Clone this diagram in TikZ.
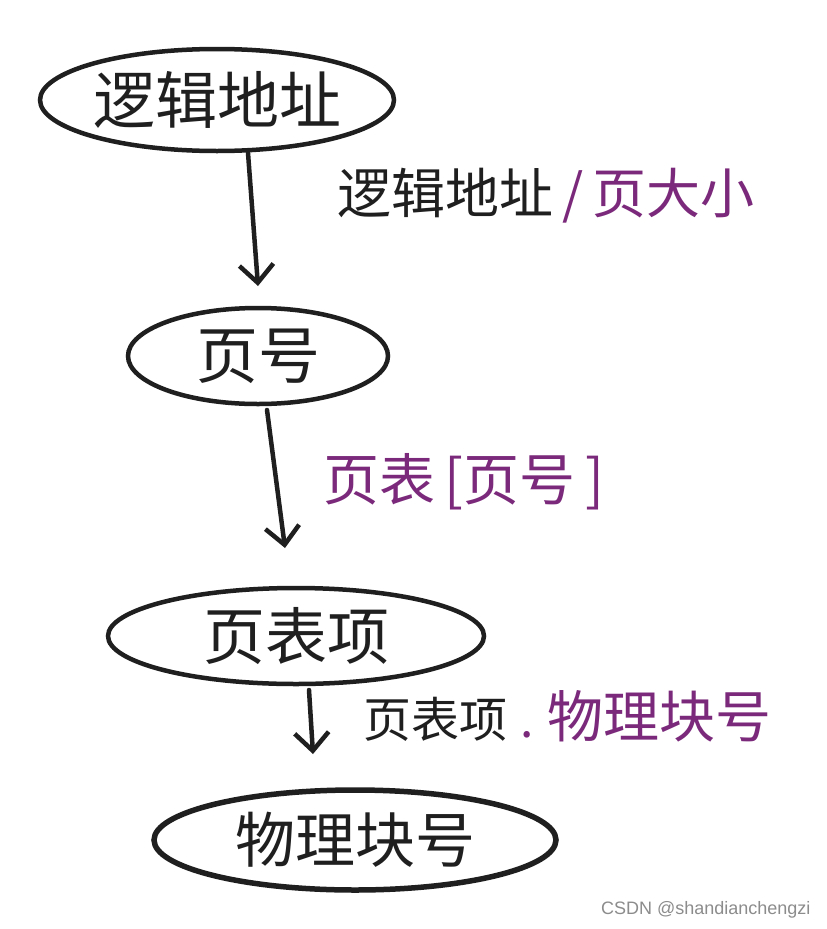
\documentclass[tikz,border=0pt]{standalone}
\usepackage{fontspec}
\newfontfamily\cjk{Noto Sans CJK SC}
\setmainfont{Liberation Sans}
\usetikzlibrary{arrows.meta,shapes.geometric}
\definecolor{pur}{HTML}{7B2A7B}
\begin{document}
\begin{tikzpicture}[x=1pt,y=-1pt,
  oval/.style={draw=black!88, line width=4.5pt, ellipse, inner sep=0pt, font=\cjk\fontsize{62}{68}\selectfont, text=black!88},
  lab/.style={font=\cjk\fontsize{54}{60}\selectfont, text=black!88, anchor=west},
  arr/.style={draw=black!88, line width=4.5pt, line cap=round, -{Straight Barb[length=18pt,width=34pt,line width=4.5pt]}}]
\useasboundingbox (0,0) rectangle (827,929);
\fill[white] (0,0) rectangle (827,929);
% ellipses
\node[oval, minimum width=354pt, minimum height=102pt] (e1) at (217,100) {逻辑地址};
\node[oval, minimum width=260pt, minimum height=96pt] (e2) at (258,356) {页号};
\node[oval, minimum width=376pt, minimum height=96pt] (e3) at (296,636) {页表项};
\node[oval, line width=5.5pt, minimum width=402pt, minimum height=100pt, font=\cjk\fontsize{60}{66}\selectfont] (e4) at (355,840) {物理块号};
% arrow endpoints
\coordinate (a1s) at (248,153);
\coordinate (a1e) at (258,286);
\coordinate (a2s) at (267,410);
\coordinate (a2e) at (285,548);
\coordinate (a3s) at (309,690);
\coordinate (a3e) at (313,754);
\draw[arr] (a1s) -- (a1e);
\draw[arr] (a2s) -- (a2e);
\draw[arr] (a3s) -- (a3e);
% labels
\node[lab] (l1) at (334,196) {逻辑地址\textcolor{pur}{\,/\,页大小}};
\node[lab, text=pur, font=\cjk\fontsize{56}{62}\selectfont] (l2) at (320,482) {页表\,[页号\,]};
\node[lab, font=\cjk\fontsize{48}{54}\selectfont] (l3) at (360,716) {页表项\textcolor{pur}{\;.\;{\fontsize{56}{62}\selectfont 物理块号}}};
% watermark
\node[font=\fontsize{18}{21}\selectfont, text=black!45, anchor=east] (wm) at (814,910) {CSDN @shandianchengzi};
\end{tikzpicture}
\end{document}
